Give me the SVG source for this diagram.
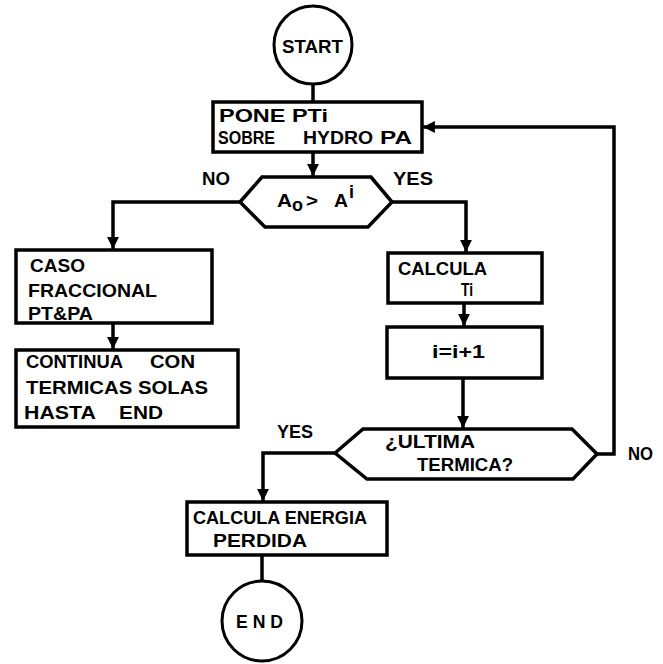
<svg xmlns="http://www.w3.org/2000/svg" width="663" height="664" viewBox="0 0 663 664">
<style>
.shape{fill:none;stroke:#000;stroke-width:3.5;stroke-linejoin:miter}
.term{fill:#fff;stroke:#000;stroke-width:3}
.line{fill:none;stroke:#000;stroke-width:3.5}
text{font-family:"Liberation Sans","DejaVu Sans",Arial,sans-serif;font-weight:bold;font-size:18px;fill:#000}
</style>
<defs>
<marker id="arr" viewBox="0 0 10 10" refX="10" refY="5" markerWidth="3.4" markerHeight="3.4" orient="auto" markerUnits="strokeWidth">
<path d="M0,0 L10,5 L0,10 Z" fill="#000"/>
</marker>
</defs>
<rect width="663" height="664" fill="#fff"/>
<g id="connectors">
<line class="line" x1="313" y1="85" x2="313" y2="102"/>
<line class="line" x1="313" y1="152" x2="313" y2="176" marker-end="url(#arr)"/>
<polyline class="line" points="240,202 113,202 113,249" marker-end="url(#arr)"/>
<polyline class="line" points="392,202 466,202 466,252" marker-end="url(#arr)"/>
<line class="line" x1="113" y1="323" x2="113" y2="349" marker-end="url(#arr)"/>
<line class="line" x1="464" y1="303" x2="464" y2="326" marker-end="url(#arr)"/>
<line class="line" x1="463" y1="378" x2="463" y2="428" marker-end="url(#arr)"/>
<polyline class="line" points="597,454 614,454 614,127 423,127" marker-end="url(#arr)"/>
<polyline class="line" points="335,453 263,453 263,501" marker-end="url(#arr)"/>
<line class="line" x1="262" y1="555" x2="262" y2="583"/>
<text x="202" y="185" textLength="28" lengthAdjust="spacingAndGlyphs">NO</text>
<text x="393" y="185" textLength="40" lengthAdjust="spacingAndGlyphs">YES</text>
<text x="628" y="460" textLength="25" lengthAdjust="spacingAndGlyphs">NO</text>
<text x="277" y="438" textLength="36" lengthAdjust="spacingAndGlyphs">YES</text>
</g>
<g id="start">
<circle class="term" cx="313" cy="45" r="39"/>
<text x="282" y="53" font-size="21" textLength="61" lengthAdjust="spacingAndGlyphs">START</text>
</g>
<g id="pone">
<rect class="shape" x="213" y="102" width="209" height="50"/>
<text x="219" y="122" textLength="109" lengthAdjust="spacingAndGlyphs">PONE PTi</text>
<text x="218" y="144" textLength="57" lengthAdjust="spacingAndGlyphs">SOBRE</text>
<text x="303" y="144" textLength="70" lengthAdjust="spacingAndGlyphs">HYDRO</text>
<text x="380" y="144" textLength="32" lengthAdjust="spacingAndGlyphs">PA</text>
</g>
<g id="decision1">
<polygon class="shape" points="240,202 262,177 371,177 392,202 368,227 265,227"/>
<text x="277" y="207" textLength="15" lengthAdjust="spacingAndGlyphs">A</text>
<text x="292" y="211" font-size="11">o</text>
<text x="306" y="207" textLength="12" lengthAdjust="spacingAndGlyphs">&gt;</text>
<text x="334" y="207" textLength="14" lengthAdjust="spacingAndGlyphs">A</text>
<text x="349" y="198" font-size="10">i</text>
</g>
<g id="caso">
<rect class="shape" x="16" y="250" width="196" height="73"/>
<text x="30" y="272" textLength="55" lengthAdjust="spacingAndGlyphs">CASO</text>
<text x="28" y="297" textLength="129" lengthAdjust="spacingAndGlyphs">FRACCIONAL</text>
<text x="28" y="320" textLength="65" lengthAdjust="spacingAndGlyphs">PT&amp;PA</text>
</g>
<g id="continua">
<rect class="shape" x="16" y="350" width="222" height="77"/>
<text x="26" y="368" textLength="97" lengthAdjust="spacingAndGlyphs">CONTINUA</text>
<text x="150" y="368" textLength="45" lengthAdjust="spacingAndGlyphs">CON</text>
<text x="26" y="394" textLength="182" lengthAdjust="spacingAndGlyphs">TERMICAS SOLAS</text>
<text x="24" y="419" textLength="72" lengthAdjust="spacingAndGlyphs">HASTA</text>
<text x="119" y="419" textLength="44" lengthAdjust="spacingAndGlyphs">END</text>
</g>
<g id="calcula">
<rect class="shape" x="388" y="253" width="154" height="50"/>
<text x="398" y="275" textLength="89" lengthAdjust="spacingAndGlyphs">CALCULA</text>
<text x="461" y="296" textLength="12" lengthAdjust="spacingAndGlyphs">Ti</text>
</g>
<g id="incr">
<rect class="shape" x="387" y="327" width="155" height="51"/>
<text x="432" y="358" textLength="53" lengthAdjust="spacingAndGlyphs">i=i+1</text>
</g>
<g id="decision2">
<polygon class="shape" points="335,453 363,429 572,429 597,454 573,479 367,479"/>
<text x="385" y="448" textLength="90" lengthAdjust="spacingAndGlyphs">¿ULTIMA</text>
<text x="417" y="471" textLength="96" lengthAdjust="spacingAndGlyphs">TERMICA?</text>
</g>
<g id="energia">
<rect class="shape" x="187" y="502" width="200" height="53"/>
<text x="193" y="524" textLength="174" lengthAdjust="spacingAndGlyphs">CALCULA ENERGIA</text>
<text x="213" y="547" textLength="94" lengthAdjust="spacingAndGlyphs">PERDIDA</text>
</g>
<g id="end">
<circle class="term" cx="262" cy="621" r="40"/>
<text x="236" y="628" textLength="47" lengthAdjust="spacingAndGlyphs">E N D</text>
</g>
</svg>
